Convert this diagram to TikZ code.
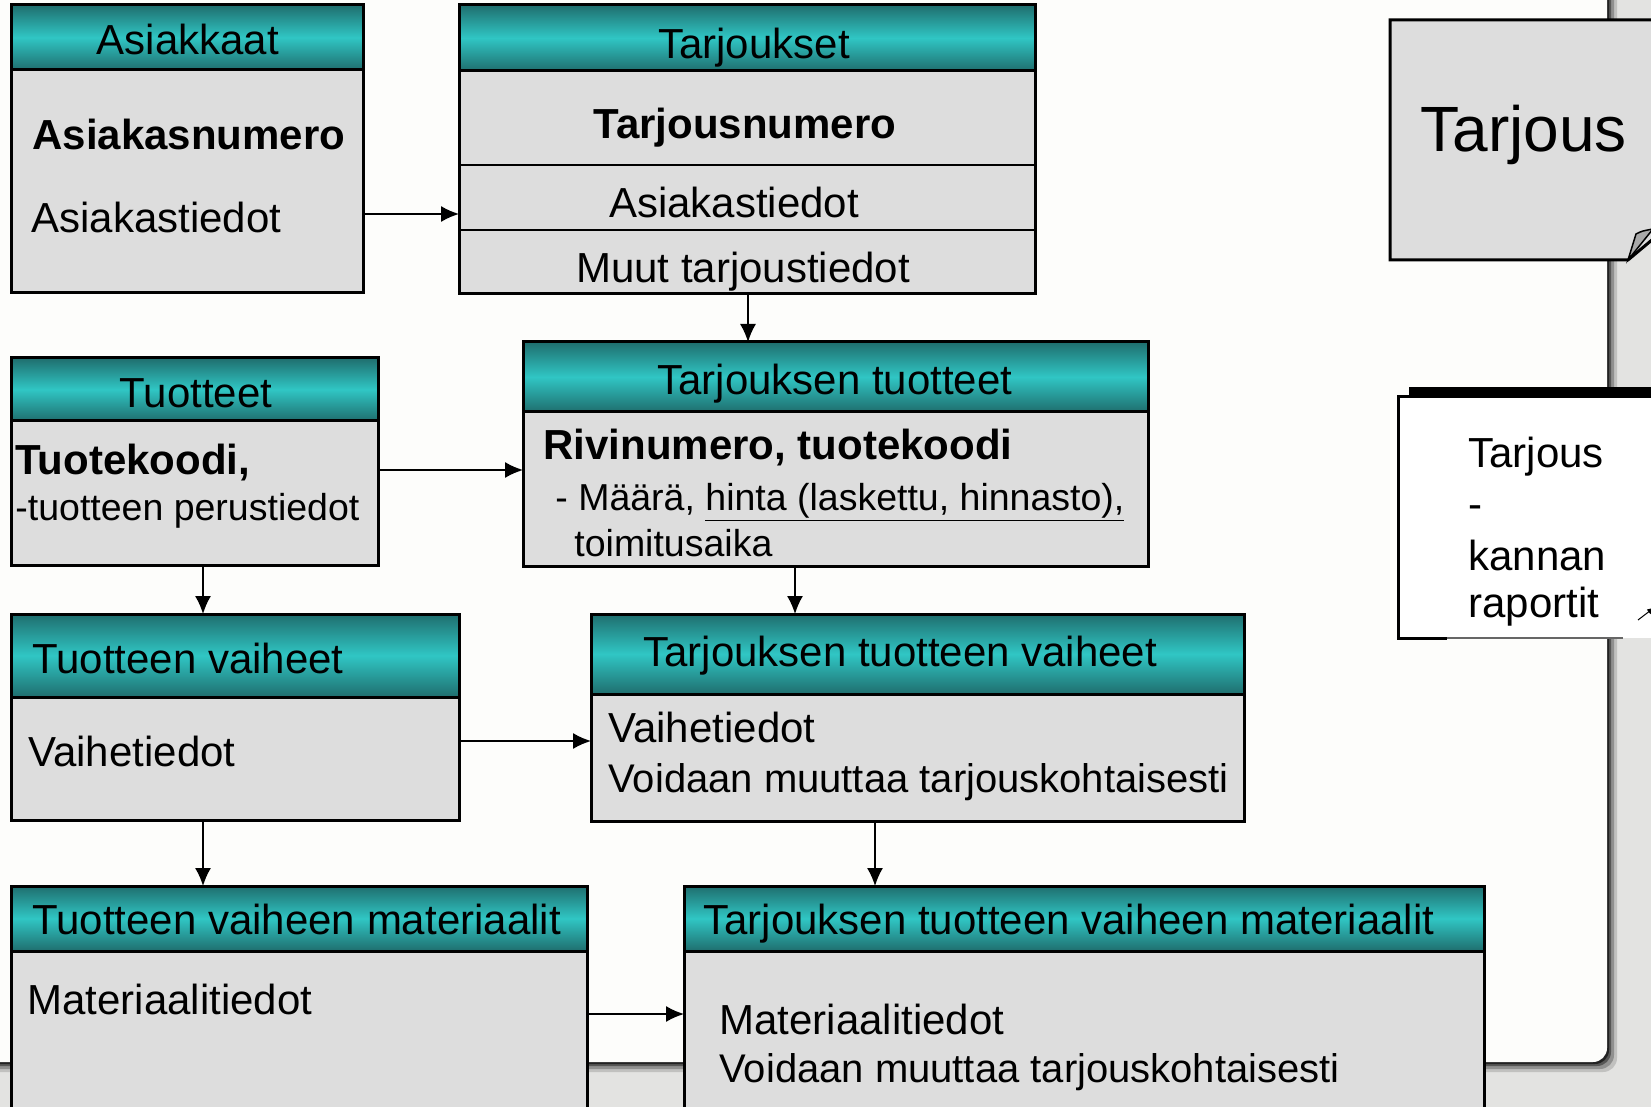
\documentclass[tikz,border=0pt]{standalone}
\usepackage{fontspec}
\setmainfont{Liberation Sans}
\usetikzlibrary{arrows.meta}
\definecolor{tealdk}{HTML}{1F6E6E}
\definecolor{teallt}{HTML}{30C6C4}
\definecolor{boxgray}{HTML}{DDDDDD}
\definecolor{slidebg}{HTML}{E3E3E1}
\definecolor{slidewh}{HTML}{FDFDFB}
\definecolor{curlgray}{HTML}{A9A9A9}
\tikzset{
  tbox/.style={draw, line width=1.5pt, fill=boxgray, anchor=north west, inner sep=0pt, outer sep=0pt},
  thead/.style={tbox, top color=tealdk, bottom color=tealdk, middle color=teallt},
  lbl/.style={inner sep=0pt, font=\fontsize{21}{25}\selectfont},
  midlbl/.style={inner sep=0pt, font=\fontsize{20}{24}\selectfont},
  small/.style={inner sep=0pt, font=\fontsize{18.75}{22}\selectfont},
  arr/.style={line width=0.75pt, -{Latex[length=9pt,width=8pt]}},
}
\begin{document}
\begin{tikzpicture}[x=0.5pt, y=-0.5pt]
\useasboundingbox (0,0) rectangle (1651,1107);
\clip (0,0) rectangle (1651,1107);
% slide and its shadow
\fill[slidebg] (0,0) rectangle (1651,1107);
\foreach \d/\o in {10/0.15, 7/0.25, 4/0.4, 2/0.6}{
   \fill[black, opacity=\o, rounded corners=7pt] (-40,-40) rectangle (1607+\d,1062+\d);
}
\fill[slidewh, rounded corners=7pt] (-40,-40) rectangle (1607,1062);

% Asiakkaat
\node[tbox, minimum width=176pt, minimum height=144pt] (asiak) at (11,5) {};
\node[thead, minimum width=176pt, minimum height=32.5pt] (asiakH) at (11,5) {};
\node[lbl, anchor=base] (asiakT) at (188,55) {Asiakkaat};
\node[lbl, anchor=base west] (asiakN) at (32,150) {\bfseries Asiakasnumero};
\node[lbl, anchor=base west] (asiakA) at (31,233) {Asiakastiedot};

% Tarjoukset
\node[tbox, minimum width=288pt, minimum height=144.5pt] (tarj) at (459,5) {};
\node[thead, minimum width=288pt, minimum height=33pt] (tarjH) at (459,5) {};
\draw[line width=1pt] (tarj.west |- 0,165) -- (tarj.east |- 0,165);
\draw[line width=1pt] (tarj.west |- 0,230) -- (tarj.east |- 0,230);
\node[lbl, anchor=base] (tarjT) at (754,59) {Tarjoukset};
\node[lbl, anchor=base] (tarjN) at (745,139) {\bfseries Tarjousnumero};
\node[lbl, anchor=base] (tarjA) at (734,218) {Asiakastiedot};
\node[lbl, anchor=base] (tarjM) at (743,283) {Muut tarjoustiedot};

% Tarjouksen tuotteet
\node[tbox, minimum width=312.5pt, minimum height=112pt] (ttuot) at (523,342) {};
\node[thead, minimum width=312.5pt, minimum height=35pt] (ttuotH) at (523,342) {};
\node[lbl, anchor=base] (ttuotT) at (835,394) {Tarjouksen tuotteet};
\node[lbl, anchor=base west] (ttuotR) at (543,459) {\bfseries Rivinumero, tuotekoodi};
\node[small, anchor=base west] (ttuotM) at (555,510) {- Määrä, \underline{hinta (laskettu, hinnasto),}};
\node[small, anchor=base west] (ttuotA) at (574,556) {toimitusaika};

% Tuotteet
\node[tbox, minimum width=183.5pt, minimum height=103.5pt] (tuot) at (11,358) {};
\node[thead, minimum width=183.5pt, minimum height=31.5pt] (tuotH) at (11,358) {};
\node[lbl, anchor=base] (tuotT) at (196,408) {Tuotteet};
\node[lbl, anchor=base west] (tuotK) at (15,474) {\bfseries Tuotekoodi,};
\node[small, anchor=base west] (tuotP) at (15,520) {-tuotteen perustiedot};

% Tuotteen vaiheet
\node[tbox, minimum width=224pt, minimum height=103pt] (tvai) at (11,614) {};
\node[thead, minimum width=224pt, minimum height=41.5pt] (tvaiH) at (11,614) {};
\node[lbl, anchor=base west] (tvaiT) at (32,673) {Tuotteen vaiheet};
\node[lbl, anchor=base west] (tvaiV) at (28,766) {Vaihetiedot};

% Tarjouksen tuotteen vaiheet
\node[tbox, minimum width=326.5pt, minimum height=103.5pt] (ttvai) at (591,614) {};
\node[thead, minimum width=326.5pt, minimum height=40pt] (ttvaiH) at (591,614) {};
\node[lbl, anchor=base west] (ttvaiT) at (643,666) {Tarjouksen tuotteen vaiheet};
\node[lbl, anchor=base west] (ttvaiV) at (608,742) {Vaihetiedot};
\node[midlbl, anchor=base west] (ttvaiM) at (608,792) {Voidaan muuttaa tarjouskohtaisesti};

% Tuotteen vaiheen materiaalit
\node[tbox, minimum width=288pt, minimum height=140pt] (tvmat) at (11,886) {};
\node[thead, minimum width=288pt, minimum height=32.5pt] (tvmatH) at (11,886) {};
\node[lbl, anchor=base west] (tvmatT) at (32,934) {Tuotteen vaiheen materiaalit};
\node[lbl, anchor=base west] (tvmatM) at (27,1014) {Materiaalitiedot};

% Tarjouksen tuotteen vaiheen materiaalit
\node[tbox, minimum width=400pt, minimum height=140pt] (ttvmat) at (684,886) {};
\node[thead, minimum width=400pt, minimum height=32.5pt] (ttvmatH) at (684,886) {};
\node[lbl, anchor=base west] (ttvmatT) at (703,934) {Tarjouksen tuotteen vaiheen materiaalit};
\node[lbl, anchor=base west] (ttvmatM) at (719,1034) {Materiaalitiedot};
\node[midlbl, anchor=base west] (ttvmatV) at (719,1082) {Voidaan muuttaa tarjouskohtaisesti};

% connectors
\draw[arr] (asiak.east |- 0,214) -- (tarj.west |- 0,214);
\draw[arr] (tarj.south -| 748,0) -- (ttuot.north -| 748,0);
\draw[arr] (tuot.east |- 0,470) -- (ttuot.west |- 0,470);
\draw[arr] (tuot.south -| 203,0) -- (tvai.north -| 203,0);
\draw[arr] (ttuot.south -| 795,0) -- (ttvai.north -| 795,0);
\draw[arr] (tvai.east |- 0,741) -- (ttvai.west |- 0,741);
\draw[arr] (tvai.south -| 203,0) -- (tvmat.north -| 203,0);
\draw[arr] (ttvai.south -| 875,0) -- (ttvmat.north -| 875,0);
\draw[arr] (tvmat.east |- 0,1014) -- (ttvmat.west |- 0,1014);

% Tarjous note with curled corner
\filldraw[fill=boxgray, line width=1.5pt] (1390,20) -- (1665,20) -- (1665,229) -- (1628,260) -- (1390,260) -- cycle;
\filldraw[fill=curlgray, line width=0.75pt] (1628,260) -- (1636,234) .. controls (1642,231) .. (1653,229) -- cycle;
\node[inner sep=0pt, font=\fontsize{32}{38}\selectfont, anchor=base west] (tarjous) at (1420,152) {Tarjous};

% reports box
\fill[white] (1398,397) rectangle (1665,638);
\fill[black] (1409,387) rectangle (1665,398);
\draw[line width=1.5pt] (1409,397) -- (1398,397) -- (1398,638) -- (1447,638);
\draw[line width=0.75pt, black!60] (1447,638) -- (1623,638);
\node[lbl, anchor=base west] (rapA) at (1468,467) {Tarjous};
\node[lbl, anchor=base west] (rapB) at (1468,518) {-};
\node[lbl, anchor=base west] (rapC) at (1468,570) {kannan};
\node[lbl, anchor=base west] (rapD) at (1468,617) {raportit};
\coordinate (rapS) at (1638,620);
\coordinate (rapE) at (1655,607);
\draw[line width=0.5pt, -{Latex[length=4pt,width=3pt]}] (rapS) -- (rapE);
\end{tikzpicture}
\end{document}
